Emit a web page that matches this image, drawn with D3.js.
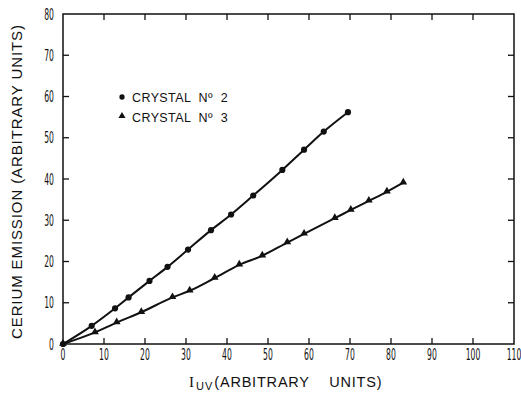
<!DOCTYPE html>
<html>
<head>
<meta charset="utf-8">
<script src="https://cdn.jsdelivr.net/npm/d3@7"></script>
<style>
  html, body { margin: 0; padding: 0; background: #fff; }
  svg { display: block; }
</style>
</head>
<body>
<svg id="chart" width="521" height="394"></svg>
<script>
// ---- data ----
const xTicks = [0, 10, 20, 30, 40, 50, 60, 70, 80, 90, 100, 110];
const yTicks = [0, 10, 20, 30, 40, 50, 60, 70, 80];
const xTickLabels = ["0", "10", "20", "30", "40", "50", "60", "70", "80", "90", "100", "110"];
const yTickLabels = ["0", "10", "20", "30", "40", "50", "60", "70", "80"];

const seriesNames = ["CRYSTAL  N\u00BA  2", "CRYSTAL  N\u00BA  3"];
const crystal2X = [0, 7.0, 12.7, 16.0, 21.1, 25.5, 30.5, 36.1, 41.0, 46.4, 53.5, 58.8, 63.6, 69.5];
const crystal2Y = [0, 4.4, 8.65, 11.3, 15.3, 18.7, 22.9, 27.6, 31.4, 36.0, 42.2, 47.1, 51.5, 56.2];
const crystal3X = [0, 7.8, 13.1, 19.1, 26.7, 30.9, 37.0, 43.0, 48.6, 54.7, 58.8, 66.3, 70.2, 74.6, 79.0, 83.0];
const crystal3Y = [0, 2.8, 5.2, 7.7, 11.3, 12.9, 16.0, 19.2, 21.4, 24.6, 26.7, 30.5, 32.5, 34.7, 36.9, 39.1];

// ---- layout ----
const svg = d3.select("#chart");
const L = 63, T = 14, R = 514, B = 344;
const x = d3.scaleLinear().domain([0, 110]).range([L, R]);
const y = d3.scaleLinear().domain([0, 80]).range([B, T]);
const ink = "#111";
const tickLen = 6;

// frame
svg.append("rect")
  .attr("x", L).attr("y", T).attr("width", R - L).attr("height", B - T)
  .attr("fill", "none").attr("stroke", ink).attr("stroke-width", 1.5);

// inward ticks on all four sides
const tk = svg.append("g").attr("stroke", ink).attr("stroke-width", 1.3);
xTicks.slice(1, -1).forEach(v => {
  tk.append("line").attr("x1", x(v)).attr("x2", x(v)).attr("y1", B).attr("y2", B - tickLen);
  tk.append("line").attr("x1", x(v)).attr("x2", x(v)).attr("y1", T).attr("y2", T + tickLen);
});
yTicks.slice(1, -1).forEach(v => {
  tk.append("line").attr("y1", y(v)).attr("y2", y(v)).attr("x1", L).attr("x2", L + tickLen);
  tk.append("line").attr("y1", y(v)).attr("y2", y(v)).attr("x1", R).attr("x2", R - tickLen);
});

// tick labels (tall narrow digits)
const tickFont = "'DejaVu Sans Condensed', 'DejaVu Sans', sans-serif";
xTicks.forEach((v, i) => {
  svg.append("text")
    .attr("transform", `translate(${x(v)},${B + 16}) scale(0.55,1)`)
    .attr("text-anchor", "middle")
    .attr("font-family", tickFont).attr("font-size", 15.5)
    .attr("fill", ink)
    .text(xTickLabels[i]);
});
yTicks.forEach((v, i) => {
  svg.append("text")
    .attr("transform", `translate(${L - 9},${y(v) + 5.5}) scale(0.55,1)`)
    .attr("text-anchor", "end")
    .attr("font-family", tickFont).attr("font-size", 15.5)
    .attr("fill", ink)
    .text(yTickLabels[i]);
});

// axis titles
const labFont = "'Liberation Sans', Arial, sans-serif";
svg.append("text")
  .attr("transform", `translate(22,${182}) rotate(-90)`)
  .attr("text-anchor", "middle")
  .attr("font-family", labFont).attr("font-size", 15)
  .attr("textLength", 314).attr("lengthAdjust", "spacing")
  .attr("fill", ink)
  .text("CERIUM  EMISSION  (ARBITRARY  UNITS)");

const xt = svg.append("text")
  .attr("x", 189).attr("y", 387)
  .attr("font-family", labFont).attr("font-size", 14.5)
  .attr("fill", ink);
xt.append("tspan").attr("font-family", "'Liberation Serif', serif").attr("font-size", 15).text("I");
xt.append("tspan").attr("font-size", 11).attr("dy", 3).attr("dx", 2).attr("letter-spacing", 1).text("UV");
xt.append("tspan").attr("dy", -3).attr("dx", 1).attr("letter-spacing", 0.8).text("(ARBITRARY\u00A0\u00A0\u00A0\u00A0UNITS)");

// curves
const line = d3.line().x(d => x(d[0])).y(d => y(d[1])).curve(d3.curveMonotoneX);
const s2 = crystal2X.map((v, i) => [v, crystal2Y[i]]);
const s3 = crystal3X.map((v, i) => [v, crystal3Y[i]]);

[s2, s3].forEach(s => {
  svg.append("path").attr("d", line(s))
    .attr("fill", "none").attr("stroke", ink).attr("stroke-width", 2);
});

// markers
const circ = d3.symbol().type(d3.symbolCircle).size(30);
const tri = d3.symbol().type(d3.symbolTriangle).size(26);
svg.append("g").selectAll("path").data(s2).join("path")
  .attr("transform", d => `translate(${x(d[0])},${y(d[1])})`)
  .attr("d", circ).attr("fill", ink);
svg.append("g").selectAll("path").data(s3).join("path")
  .attr("transform", d => `translate(${x(d[0])},${y(d[1]) - 0.5})`)
  .attr("d", tri).attr("fill", ink);

// legend
const lg = svg.append("g");
lg.append("path").attr("transform", "translate(122,97)").attr("d", d3.symbol().type(d3.symbolCircle).size(22)).attr("fill", ink);
lg.append("path").attr("transform", "translate(122,116)").attr("d", d3.symbol().type(d3.symbolTriangle).size(22)).attr("fill", ink);
seriesNames.forEach((n, i) => {
  lg.append("text")
    .attr("x", 132).attr("y", 102 + i * 19.5)
    .attr("font-family", labFont).attr("font-size", 12.5)
    .attr("letter-spacing", 0.4)
    .attr("fill", ink)
    .attr("xml:space", "preserve")
    .style("white-space", "pre")
    .text(n);
});
</script>
</body>
</html>
